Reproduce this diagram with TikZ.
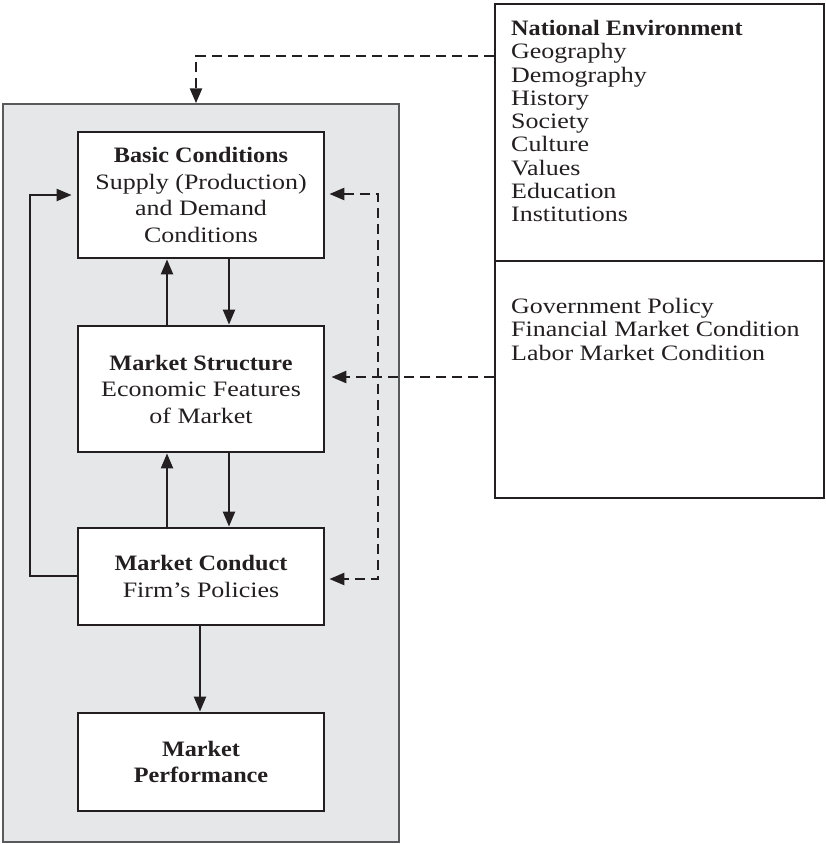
\documentclass[tikz,border=0pt]{standalone}
\usepackage{fontspec}
\setmainfont{Liberation Serif}[FakeStretch=1.18,BoldFeatures={FakeStretch=1.1}]
\usetikzlibrary{arrows.meta}
\definecolor{ink}{HTML}{231F20}
\definecolor{panel}{HTML}{E6E7E8}
\definecolor{panelline}{HTML}{58595B}
\begin{document}
\begin{tikzpicture}[x=1pt,y=-1pt,
  box/.style={draw=ink,line width=2.8pt,fill=white,minimum width=246pt,align=center,inner sep=0pt,font=\fontsize{22}{26.5}\selectfont,text=ink},
  envbox/.style={draw=ink,line width=2.6pt,minimum width=329pt,inner sep=0pt},
  conn/.style={draw=ink,line width=2.2pt,-{Triangle[length=15pt,width=12pt]}},
  dconn/.style={conn,line width=2.5pt,dash pattern=on 10pt off 6pt},
  listtext/.style={anchor=north west,align=left,inner sep=0pt,font=\fontsize{22}{23.3}\selectfont,text=ink}]
\useasboundingbox (0,0) rectangle (826,844);
% grey panel
\node[draw=panelline,fill=panel,line width=1.5pt,minimum width=396pt,minimum height=738pt,inner sep=0pt] (market) at (201,473) {};
% boxes
\node[box,minimum height=126pt] (basic) at (201,195) {\textbf{Basic Conditions}\\Supply (Production)\\and Demand\\Conditions};
\node[box,minimum height=126pt] (structure) at (201,389) {\textbf{Market Structure}\\Economic Features\\of Market};
\node[box,minimum height=97pt] (conduct) at (201,576.5) {\textbf{Market Conduct}\\Firm’s Policies};
\node[box,minimum height=98pt] (perf) at (201,762) {\textbf{Market}\\\textbf{Performance}};
% right boxes
\node[envbox,minimum height=257pt] (env) at (659.5,132.5) {};
\node[envbox,minimum height=237pt] (pol) at (659.5,379.5) {};
\node[listtext] (envtext) at (511,20) {\textbf{National Environment}\\Geography\\Demography\\History\\Society\\Culture\\Values\\Education\\Institutions};
\node[listtext] (poltext) at (511,298) {Government Policy\\Financial Market Condition\\Labor Market Condition};
% solid connectors
\draw[conn] ([xshift=-34pt]structure.north) -- ([xshift=-34pt]basic.south);
\draw[conn] ([xshift=28pt]basic.south) -- ([xshift=28pt]structure.north);
\draw[conn] ([xshift=-34pt]conduct.north) -- ([xshift=-34pt]structure.south);
\draw[conn] ([xshift=28pt]structure.south) -- ([xshift=28pt]conduct.north);
\draw[conn] ([xshift=-1pt]conduct.south) -- ([xshift=-1pt]perf.north);
\draw[conn,shorten >=5pt] (conduct.west |- 0,576) -- (30,576) |- (basic.west |- 0,195);
% dashed connectors
\draw[dconn] (env.west |- 0,56) -| ([xshift=-5pt]market.north);
\draw[dconn,shorten >=6pt] (pol.west |- 0,377) -- (structure.east |- 0,377);
\draw[dconn,{Triangle[length=15pt,width=12pt]}-{Triangle[length=15pt,width=12pt]},shorten <=4pt,shorten >=4pt] (basic.east |- 0,194) -- (378,194) -- (378,579) -- (conduct.east |- 0,579);
\end{tikzpicture}
\end{document}
